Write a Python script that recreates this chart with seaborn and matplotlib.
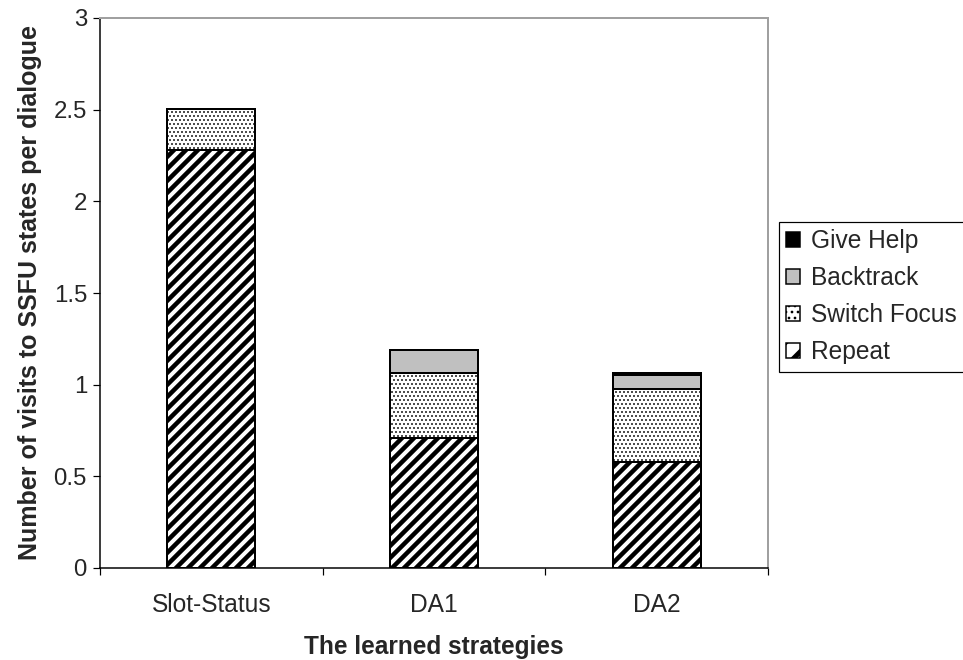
import matplotlib
matplotlib.use("Agg")
import matplotlib.pyplot as plt
from matplotlib.patches import Patch
import numpy as np
import pandas as pd
import seaborn as sns

# Data: average number of visits to SSFU states per dialogue
strategies = ["Slot-Status", "DA1", "DA2"]
repeat = [2.28, 0.71, 0.578]
switch_focus = [0.225, 0.355, 0.40]
backtrack = [0.0, 0.125, 0.076]
give_help = [0.0, 0.0, 0.01]

segments = ["Repeat", "Switch Focus", "Backtrack", "Give Help"]
values = [repeat, switch_focus, backtrack, give_help]
styles = {
    "Repeat": dict(color="white", hatch="//"),
    "Switch Focus": dict(color="white", hatch="..."),
    "Backtrack": dict(color="#c0c0c0", hatch=None),
    "Give Help": dict(color="black", hatch=None),
}
hatch_lw = {"Repeat": 4.5, "Switch Focus": 1.0}

sns.set_style("white")
plt.rcParams["font.family"] = ["Liberation Sans", "DejaVu Sans"]

DPI = 72
fig = plt.figure(figsize=(963 / DPI, 660 / DPI), dpi=DPI)
ax = fig.add_axes([100 / 963, 92 / 660, 668 / 963, 550 / 660])

bottom = np.zeros(len(strategies))
for name, vals in zip(segments, values):
    df = pd.DataFrame({"strategy": strategies, "value": vals})
    n_before = len(ax.patches)
    sns.barplot(data=df, x="strategy", y="value", ax=ax, bottom=bottom,
                color=styles[name]["color"], width=0.395, saturation=1,
                edgecolor="black", linewidth=2.0, errorbar=None)
    for p in ax.patches[n_before:]:
        p.set_facecolor(styles[name]["color"])
        if styles[name]["hatch"]:
            p.set_hatch(styles[name]["hatch"])
            if hasattr(p, "set_hatch_linewidth"):
                p.set_hatch_linewidth(hatch_lw[name])
        if p.get_height() <= 0:
            p.set_visible(False)
    bottom = bottom + np.array(vals)

ax.set_xlim(-0.5, 2.5)
ax.set_ylim(0, 3)
ax.set_yticks([0, 0.5, 1, 1.5, 2, 2.5, 3])
ax.set_yticklabels(["0", "0.5", "1", "1.5", "2", "2.5", "3"])
ax.tick_params(axis="y", which="major", direction="out", length=7, width=1.2,
               labelsize=24, left=True, color="black", pad=6)
ax.tick_params(axis="x", which="major", length=0, labelsize=24.5, pad=25)
ax.set_xticks([-0.5, 0.5, 1.5, 2.5], minor=True)
ax.tick_params(axis="x", which="minor", direction="out", length=7, width=1.2,
               bottom=True, color="black")

for side in ["left", "bottom"]:
    ax.spines[side].set_color("black")
    ax.spines[side].set_linewidth(1.5)
for side in ["top", "right"]:
    ax.spines[side].set_visible(True)
    ax.spines[side].set_color("#a0a0a0")
    ax.spines[side].set_linewidth(2)

ax.set_xlabel("The learned strategies", fontsize=24.5, fontweight="bold", labelpad=18)
ax.set_ylabel("Number of visits to SSFU states per dialogue", fontsize=25,
              fontweight="bold", labelpad=12)

legend_labels = ["Give Help", "Backtrack", "Switch Focus", "Repeat"]
legend_hatch = {"Repeat": "/", "Switch Focus": ".."}
handles = []
for name in legend_labels:
    h = Patch(facecolor=styles[name]["color"], edgecolor="black", linewidth=1.5,
              hatch=legend_hatch.get(name))
    handles.append(h)
leg = fig.legend(handles=handles, labels=legend_labels,
                 loc="upper left", bbox_to_anchor=(779 / 963, 1 - 222 / 660),
                 fontsize=24.5, frameon=True, fancybox=False, framealpha=1,
                 edgecolor="black", handlelength=0.55, handleheight=0.55,
                 handletextpad=0.45, labelspacing=0.53, borderpad=0.3,
                 borderaxespad=0)
leg.get_frame().set_linewidth(1.2)
for name, p in zip(legend_labels, leg.get_patches()):
    if name in hatch_lw and hasattr(p, "set_hatch_linewidth"):
        p.set_hatch_linewidth(5.0 if name == "Repeat" else 1.5)

fig.savefig("out.png", dpi=DPI)
